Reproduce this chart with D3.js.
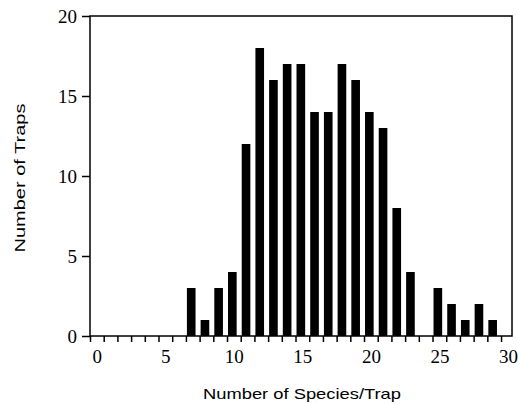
<!DOCTYPE html>
<html>
<head>
<meta charset="utf-8">
<script src="https://cdn.jsdelivr.net/npm/d3@7"></script>
<style>
    body { margin: 0; background: #fff; }
    svg { font-family: "Liberation Serif", serif; font-size: 19px; }
    .axis path, .axis line { stroke: #000; stroke-width: 1.5; }
    .title { font-family: "Liberation Sans", Arial, sans-serif; font-size: 15px; fill: #000; }
</style>
</head>
<body>
<div id="chart"></div>
<script>
// species per trap (0..30) and how many traps had that count
let species = d3.range(0, 31);
let traps = [0, 0, 0, 0, 0, 0, 0, 3, 1, 3, 4, 12, 18, 16, 17, 17, 14, 14, 17, 16, 14, 13, 8, 4, 0, 3, 2, 1, 2, 1, 0];
let yTicks = [0, 5, 10, 15, 20];
let xLabels = [0, 5, 10, 15, 20, 25, 30];

var width = 518;
var height = 404;
var margin = { top: 16, bottom: 68, left: 90, right: 6 };

let svg = d3.select('#chart')
    .append('svg')
        .attr('width', width)
        .attr('height', height);

let xScale = d3.scaleLinear()
    .domain([0, 30.8])
    .range([margin.left, width - margin.right]);

let yScale = d3.scaleLinear()
    .domain([0, 20])
    .range([height - margin.bottom, margin.top]);

// bars sit at the left of each one-unit bin
svg.selectAll('rect.bar')
    .data(species)
    .enter()
    .append('rect')
    .attr('class', 'bar')
    .attr('fill', '#000')
    .attr('x', d => xScale(d) + 1)
    .attr('width', xScale(0.63) - xScale(0))
    .attr('y', d => yScale(traps[d]))
    .attr('height', d => yScale(0) - yScale(traps[d]));

// frame
svg.append('rect')
    .attr('x', xScale(0))
    .attr('y', yScale(20))
    .attr('width', xScale(30.8) - xScale(0))
    .attr('height', yScale(0) - yScale(20))
    .attr('fill', 'none')
    .attr('stroke', '#000')
    .attr('stroke-width', 1.5);

// drop d3's default sans font so the labels take the serif face
function plainFont(g) {
    g.attr('font-family', null).attr('font-size', null);
    g.selectAll('text')
        .attr('fill', '#000')
        .attr('font-family', 'Liberation Serif')
        .attr('font-size', 19);
}

// x minor ticks every unit
svg.append('g')
    .attr('class', 'axis')
    .attr('transform', 'translate(0,' + yScale(0) + ')')
    .call(d3.axisBottom(xScale).tickValues(species).tickSize(6).tickSizeOuter(0).tickFormat(''))
    .select('.domain').remove();

// x labels centred in their bins
svg.append('g')
    .attr('class', 'axis')
    .attr('transform', 'translate(0,' + yScale(0) + ')')
    .call(d3.axisBottom(xScale).tickValues(xLabels.map(d => d + 0.5)).tickSize(0).tickPadding(14).tickFormat(d => d - 0.5))
    .call(g => g.select('.domain').remove())
    .call(plainFont);

let yAxis = d3.axisLeft(yScale).tickValues(yTicks).tickSize(8).tickSizeOuter(0).tickPadding(5);
svg.append('g')
    .attr('class', 'axis')
    .attr('transform', 'translate(' + xScale(0) + ',0)')
    .call(yAxis)
    .call(g => g.select('.domain').remove())
    .call(plainFont)
    .selectAll('text').attr('dy', '0.34em');

// axis titles
svg.append('text')
    .attr('class', 'title')
    .attr('x', 302)
    .attr('y', 399)
    .attr('text-anchor', 'middle')
    .attr('textLength', 198)
    .attr('lengthAdjust', 'spacingAndGlyphs')
    .text('Number of Species/Trap');

svg.append('text')
    .attr('class', 'title')
    .attr('transform', 'translate(25,178) rotate(-90)')
    .attr('text-anchor', 'middle')
    .attr('textLength', 149)
    .attr('lengthAdjust', 'spacingAndGlyphs')
    .text('Number of Traps');
</script>
</body>
</html>
